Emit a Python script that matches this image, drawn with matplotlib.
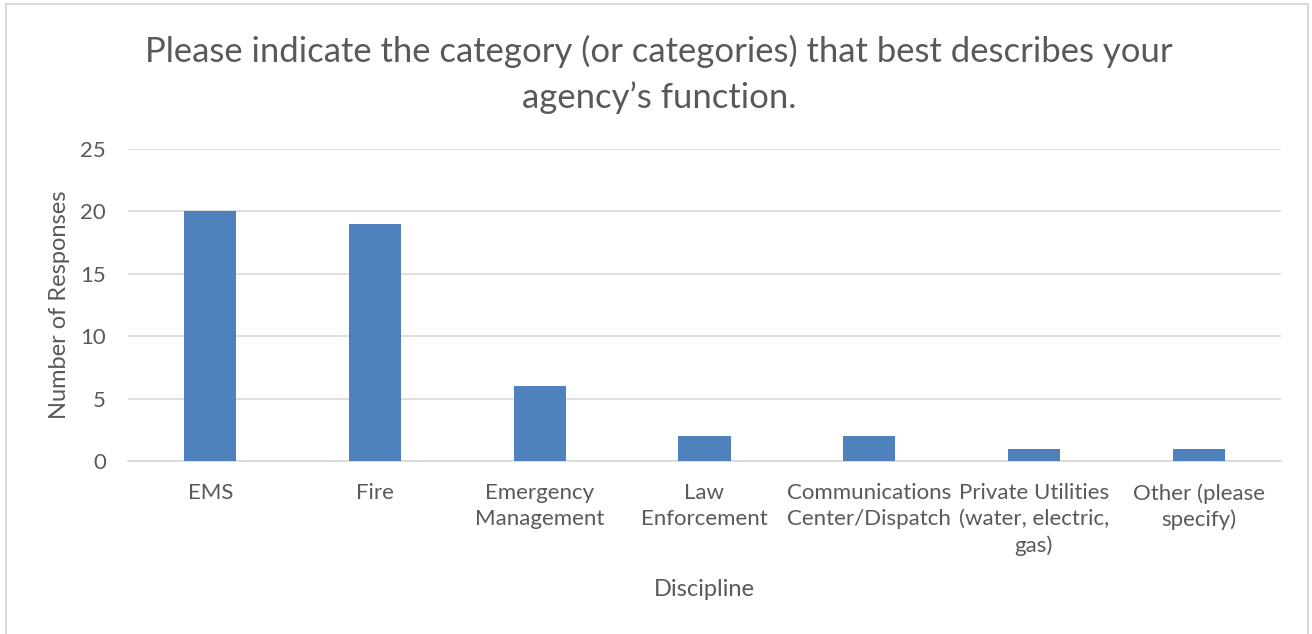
import matplotlib
matplotlib.use("Agg")
import matplotlib.pyplot as plt
from matplotlib.patches import Rectangle

categories = ["EMS", "Fire", "Emergency\nManagement", "Law\nEnforcement",
              "Communications\nCenter/Dispatch", "Private Utilities\n(water, electric,\ngas)",
              "Other (please\nspecify)"]
values = [20, 19, 6, 2, 2, 1, 1]
yticks = [0, 5, 10, 15, 20, 25]
title = "Please indicate the category (or categories) that best describes your\nagency\u2019s function."
xlabel = "Discipline"
ylabel = "Number of Responses"

plt.rcParams['font.family'] = ['Lato', 'DejaVu Sans']
text_color = "#595959"

fig = plt.figure(figsize=(13.12, 6.34), dpi=100)
fig.patches.append(Rectangle((6/1312, -0.1), 1302/1312, 1.1 - 4/634, transform=fig.transFigure,
                             fill=False, edgecolor="#D9D9D9", linewidth=1.5))
ax = fig.add_axes([128/1312, 1 - 461/634, 1153/1312, 312/634])
x = range(len(categories))
ax.bar(x, values, width=0.316, color="#4F81BD", zorder=3)
ax.set_xlim(-0.5, len(categories) - 0.5)
ax.set_ylim(0, 25)
ax.set_yticks(yticks)
ax.yaxis.grid(True, color="#D9D9D9", linewidth=1.2, zorder=0)
for s in ["top", "right", "left"]:
    ax.spines[s].set_visible(False)
ax.spines["bottom"].set_color("#D9D9D9")
ax.spines["bottom"].set_linewidth(1.2)
ax.tick_params(axis="both", length=0, labelsize=16, colors=text_color)
ax.set_yticklabels([str(v) for v in yticks])
ax.set_xticks(list(x))
ax.set_xticklabels(categories, linespacing=1.36)
ax.tick_params(axis="y", pad=16)
ax.tick_params(axis="x", pad=16)
fig.text(659/1312, 1 - 74/634, title, ha="center", va="center", fontsize=24.9,
         color=text_color, linespacing=1.5)
fig.text(60/1312, 1 - 305/634, ylabel, rotation=90, ha="center", va="center",
         fontsize=17, color=text_color)
fig.text(704/1312, 1 - 590/634, xlabel, ha="center", va="center", fontsize=17, color=text_color)
fig.savefig("out.png", dpi=100, facecolor="white")
